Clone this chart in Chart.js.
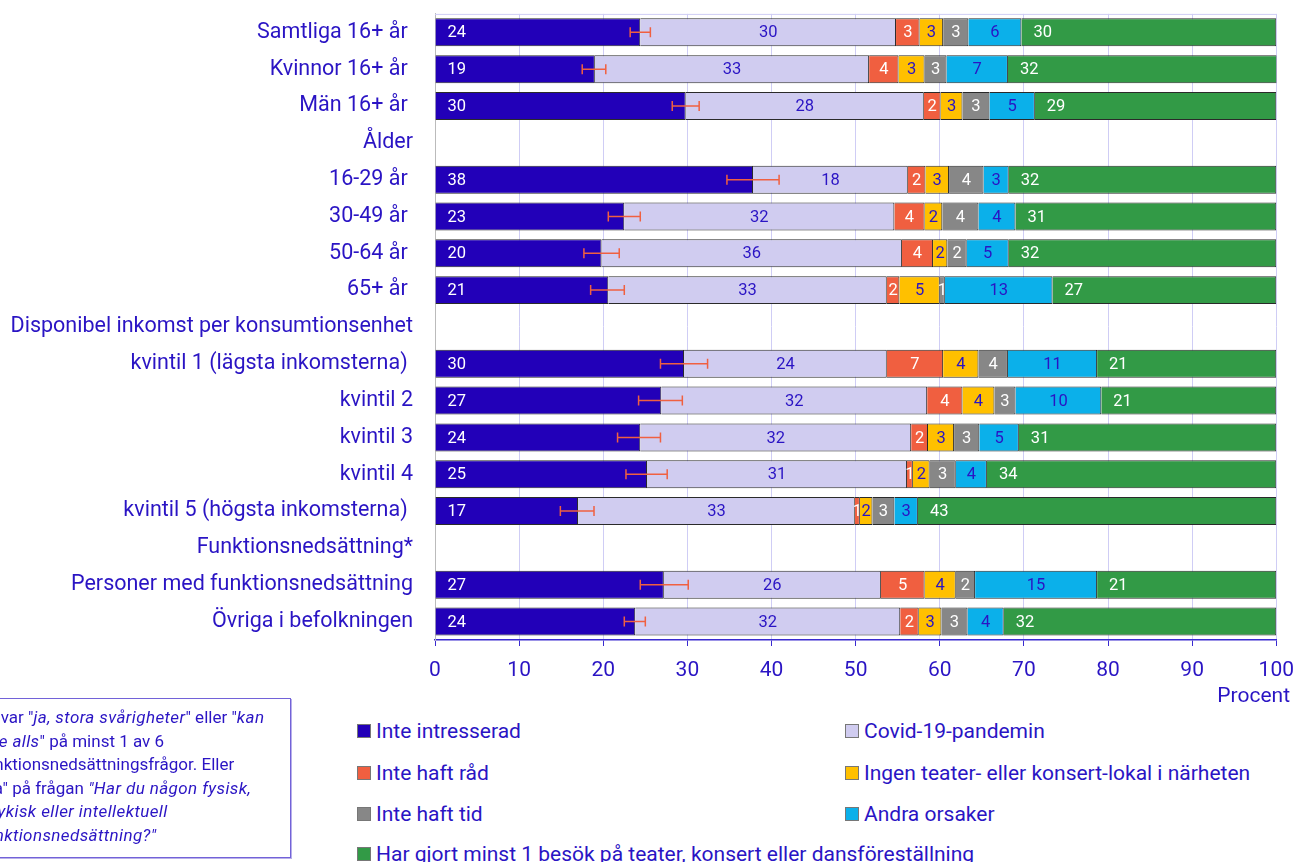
<!DOCTYPE html>
<html lang="sv">
<head>
<meta charset="utf-8">
<script src="https://cdn.jsdelivr.net/npm/chart.js@4.4.1/dist/chart.umd.min.js"></script>
<style>
  html, body { margin: 0; padding: 0; background: #fff; overflow: hidden; }
  body { width: 1295px; height: 862px; position: relative; font-family: Roboto, "Noto Sans", sans-serif; color: #2a14c4; }
  #wrap { position: absolute; left: 0; top: -13px; width: 1306px; height: 718px; }
  #procent { position: absolute; right: 5px; top: 683px; font-size: 21px; }
  #legend { position: absolute; left: 0; top: 0; }
  .item { position: absolute; font-size: 21px; white-space: nowrap; line-height: 24px; }
  .item span.box { display: inline-block; width: 12px; height: 12px; border: 1px solid #777; margin-right: 5px; vertical-align: 0px; }
  #note { position: absolute; left: -40px; top: 698px; width: 329px; height: 158px; border: 1px solid #7262d8;
          box-shadow: 1px 1px 0 #b8b0ea; font-size: 17px; line-height: 23.6px; }
  #note div { position: absolute; left: 18px; top: 7px; white-space: nowrap; }
  #note i { letter-spacing: 0.4px; }
</style>
</head>
<body>
<div id="wrap"><canvas id="chart"></canvas></div>
<div id="procent">Procent</div>
<div id="legend"></div>
<div id="note"><div>* Svar "<i>ja, stora svårigheter</i>" eller "<i>kan<br>inte alls</i>" på minst 1 av 6<br>funktionsnedsättningsfrågor. Eller<br>"Ja" på frågan <i>"Har du någon fysisk,<br>psykisk eller intellektuell<br>funktionsnedsättning?"</i></div></div>
<script>
// Categories (header rows have no bars)
const categories = [
    "Samtliga 16+ år ", "Kvinnor 16+ år ", "Män 16+ år ",
    "Ålder", "16-29 år ", "30-49 år ", "50-64 år ", "65+ år ",
    "Disponibel inkomst per konsumtionsenhet",
    "kvintil 1 (lägsta inkomsterna) ", "kvintil 2", "kvintil 3", "kvintil 4", "kvintil 5 (högsta inkomsterna) ",
    "Funktionsnedsättning*", "Personer med funktionsnedsättning", "Övriga i befolkningen"
];

const inteIntresserad = [24.4, 19.0, 29.8, null, 37.8, 22.5, 19.8, 20.6, null, 29.6, 26.9, 24.4, 25.2, 17.0, null, 27.2, 23.8];
const covid          = [30.4, 32.6, 28.3, null, 18.4, 32.1, 35.7, 33.1, null, 24.1, 31.6, 32.2, 30.9, 32.9, null, 25.8, 31.5];
const inteRad        = [2.8, 3.5, 2.0, null, 2.1, 3.6, 3.7, 1.5, null, 6.7, 4.2, 2.0, 0.7, 0.6, null, 5.2, 2.2];
const ingenLokal     = [2.8, 3.1, 2.6, null, 2.8, 2.1, 1.7, 4.8, null, 4.2, 3.8, 3.1, 2.0, 1.5, null, 3.7, 2.7];
const inteTid        = [3.0, 2.6, 3.2, null, 4.1, 4.3, 2.3, 0.6, null, 3.5, 2.5, 3.0, 3.1, 2.6, null, 2.3, 3.1];
const andra          = [6.3, 7.3, 5.4, null, 3.0, 4.4, 5.0, 12.8, null, 10.6, 10.2, 4.7, 3.7, 2.8, null, 14.5, 4.3];
const besok          = [30.3, 32.0, 28.7, null, 31.8, 31.0, 31.8, 26.6, null, 21.3, 20.8, 30.6, 34.4, 42.6, null, 21.3, 32.4];

// confidence interval for "Inte intresserad"
const ciLow  = [23.2, 17.5, 28.2, null, 34.7, 20.6, 17.7, 18.5, null, 26.8, 24.2, 21.7, 22.7, 14.9, null, 24.4, 22.5];
const ciHigh = [25.6, 20.3, 31.4, null, 40.9, 24.4, 21.9, 22.5, null, 32.4, 29.4, 26.8, 27.6, 18.9, null, 30.1, 25.0];

const xTicks = [0, 10, 20, 30, 40, 50, 60, 70, 80, 90, 100];

const blue = '#2a14c4';
const series = [
    { label: 'Inte intresserad', data: inteIntresserad, color: '#2200b8', text: '#fff', left: true },
    { label: 'Covid-19-pandemin', data: covid, color: '#d0ccf0', text: blue },
    { label: 'Inte haft råd', data: inteRad, color: '#f05f40', text: '#fff' },
    { label: 'Ingen teater- eller konsert-lokal i närheten', data: ingenLokal, color: '#ffc000', text: blue },
    { label: 'Inte haft tid', data: inteTid, color: '#878787', text: '#fff' },
    { label: 'Andra orsaker', data: andra, color: '#0bb0ea', text: blue },
    { label: 'Har gjort minst 1 besök på teater, konsert eller dansföreställning', data: besok, color: '#329a46', text: '#fff', left: true }
];

// error bars + value labels
const overlay = {
    id: 'overlay',
    beforeDatasetsDraw(chart) {
        const a = chart.chartArea, ctx = chart.ctx;
        ctx.save();
        ctx.strokeStyle = '#cfcdf5';
        ctx.lineWidth = 1;
        ctx.beginPath();
        ctx.moveTo(a.left, a.top + 0.5); ctx.lineTo(a.right, a.top + 0.5);
        ctx.stroke();
        ctx.restore();
    },
    afterDatasetsDraw(chart) {
        const ctx = chart.ctx;
        const x = chart.scales.x;
        const m0 = chart.getDatasetMeta(0);
        ctx.save();
        ctx.strokeStyle = '#f06040';
        ctx.lineWidth = 1.5;
        m0.data.forEach((el, i) => {
            if (ciLow[i] == null) return;
            const x1 = x.getPixelForValue(ciLow[i]), x2 = x.getPixelForValue(ciHigh[i]);
            ctx.beginPath();
            ctx.moveTo(x1, el.y); ctx.lineTo(x2, el.y);
            ctx.moveTo(x1, el.y - 5); ctx.lineTo(x1, el.y + 5);
            ctx.moveTo(x2, el.y - 5); ctx.lineTo(x2, el.y + 5);
            ctx.stroke();
        });
        ctx.font = '16.5px Roboto';
        ctx.textBaseline = 'middle';
        chart.data.datasets.forEach((ds, d) => {
            const meta = chart.getDatasetMeta(d);
            meta.data.forEach((el, i) => {
                const v = ds.data[i];
                if (v == null) return;
                const s = series[d];
                ctx.fillStyle = s.text;
                if (s.left) {
                    ctx.textAlign = 'left';
                    ctx.fillText(String(Math.round(v)), Math.min(el.x, el.base) + 12, el.y + 1);
                } else {
                    ctx.textAlign = 'center';
                    ctx.fillText(String(Math.round(v)), (el.x + el.base) / 2, el.y + 1);
                }
            });
        });
        ctx.restore();
    }
};

const chart = new Chart(document.getElementById('chart'), {
    type: 'bar',
    data: {
        labels: categories,
        datasets: series.map(s => ({
            label: s.label,
            data: s.data,
            backgroundColor: s.color,
            borderColor: '#2a2a2a',
            borderWidth: { top: 1, bottom: 1, left: 0, right: 1 },
            borderSkipped: false,
            barPercentage: 0.76,
            categoryPercentage: 1
        }))
    },
    options: {
        indexAxis: 'y',
        responsive: true,
        maintainAspectRatio: false,
        animation: false,
        layout: { padding: { top: 19, right: 19, bottom: 0, left: 0 } },
        plugins: { legend: { display: false }, tooltip: { enabled: false } },
        scales: {
            x: {
                stacked: true,
                min: 0, max: 100,
                afterBuildTicks: s => { s.ticks = xTicks.map(v => ({ value: v })); },
                afterFit: s => { s.height = 65; },
                grid: { color: '#cfcdf5', tickColor: '#3a2ad0', tickLength: 6 },
                border: { color: '#3a2ad0', width: 1.5 },
                ticks: { color: blue, font: { family: 'Roboto', size: 21 }, padding: 12, maxRotation: 0 }
            },
            y: {
                stacked: true,
                afterFit: s => { s.width = 435; },
                grid: { display: false },
                border: { color: '#bbbbbb' },
                ticks: { color: blue, font: { family: 'Roboto', size: 21.5 }, padding: 14, autoSkip: false }
            }
        }
    },
    plugins: [overlay]
});

// html legend in two columns
const legend = document.getElementById('legend');
const pos = [[357, 719], [845, 719], [357, 761], [845, 761], [357, 802], [845, 802], [357, 842]];
series.forEach((s, i) => {
    const d = document.createElement('div');
    d.className = 'item';
    d.style.left = pos[i][0] + 'px';
    d.style.top = pos[i][1] + 'px';
    d.innerHTML = '<span class="box" style="background:' + s.color + '"></span>' + s.label;
    legend.appendChild(d);
});
</script>
</body>
</html>
